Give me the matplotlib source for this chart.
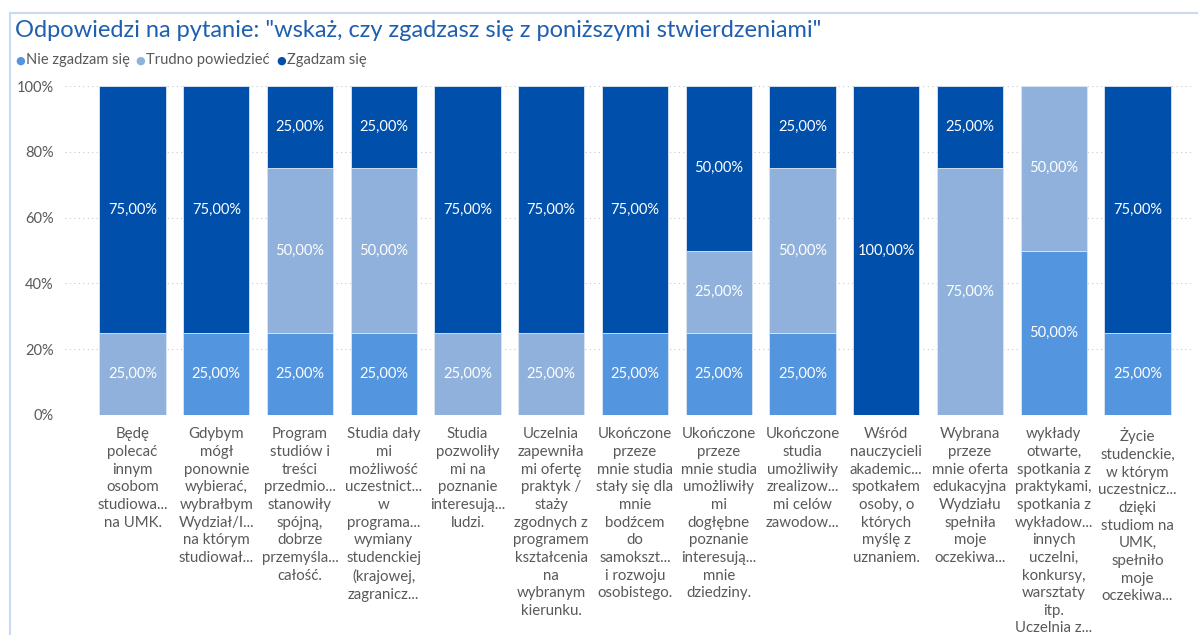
import matplotlib
matplotlib.use("Agg")
import matplotlib.pyplot as plt
from matplotlib.lines import Line2D
import numpy as np

plt.rcParams["font.family"] = ["Lato", "DejaVu Sans"]

categories = [
    "Będę\npolecać\ninnym\nosobom\nstudiowa...\nna UMK.",
    "Gdybym\nmógł\nponownie\nwybierać,\nwybrałbym\nWydział/I...\nna którym\nstudiował...",
    "Program\nstudiów i\ntreści\nprzedmio...\nstanowiły\nspójną,\ndobrze\nprzemyśla...\ncałość.",
    "Studia dały\nmi\nmożliwość\nuczestnict...\nw\nprograma...\nwymiany\nstudenckiej\n(krajowej,\nzagranicz...",
    "Studia\npozwoliły\nmi na\npoznanie\ninteresują...\nludzi.",
    "Uczelnia\nzapewniła\nmi ofertę\npraktyk /\nstaży\nzgodnych z\nprogramem\nkształcenia\nna\nwybranym\nkierunku.",
    "Ukończone\nprzeze\nmnie studia\nstały się dla\nmnie\nbodźcem\ndo\nsamokszt...\ni rozwoju\nosobistego.",
    "Ukończone\nprzeze\nmnie studia\numożliwiły\nmi\ndogłębne\npoznanie\ninteresują...\nmnie\ndziedziny.",
    "Ukończone\nstudia\numożliwiły\nzrealizow...\nmi celów\nzawodow...",
    "Wśród\nnauczycieli\nakademic...\nspotkałem\nosoby, o\nktórych\nmyślę z\nuznaniem.",
    "Wybrana\nprzeze\nmnie oferta\nedukacyjna\nWydziału\nspełniła\nmoje\noczekiwa...",
    "wykłady\notwarte,\nspotkania z\npraktykami,\nspotkania z\nwykładow...\ninnych\nuczelni,\nkonkursy,\nwarsztaty\nitp.\nUczelnia z...",
    "Życie\nstudenckie,\nw którym\nuczestnicz...\ndzięki\nstudiom na\nUMK,\nspełniło\nmoje\noczekiwa...",
]

series_names = ["Nie zgadzam się", "Trudno powiedzieć", "Zgadzam się"]
nie_zgadzam = [0.00, 0.25, 0.25, 0.25, 0.00, 0.00, 0.25, 0.25, 0.25, 0.00, 0.00, 0.50, 0.25]
trudno = [0.25, 0.00, 0.50, 0.50, 0.25, 0.25, 0.00, 0.25, 0.50, 0.00, 0.75, 0.50, 0.00]
zgadzam = [0.75, 0.75, 0.25, 0.25, 0.75, 0.75, 0.75, 0.50, 0.25, 1.00, 0.25, 0.00, 0.75]

colors = ["#5495DF", "#8FB1DB", "#0050AB"]
text_grey = "#595959"

fig = plt.figure(figsize=(11.98, 6.35), dpi=100)
ax = fig.add_axes([0.054, 0.3465, 0.943, 0.518])

x = np.arange(len(categories))
bottom = np.zeros(len(categories))
for name, vals, color in zip(series_names, [nie_zgadzam, trudno, zgadzam], colors):
    vals = np.array(vals)
    ax.bar(x, vals, bottom=bottom, width=0.79, color=color,
           edgecolor="#DCE6F2", linewidth=0.6, label=name, zorder=3)
    for xi, b, v in zip(x, bottom, vals):
        if v > 0:
            ax.text(xi, b + v / 2, f"{v * 100:.2f}%".replace(".", ","),
                    ha="center", va="center", color="white", fontsize=10.5, zorder=4)
    bottom += vals

ax.set_ylim(0, 1)
ax.set_xlim(-0.81, 12.68)
ax.set_yticks(np.arange(0, 1.01, 0.2))
ax.set_yticklabels([f"{int(t * 100)}%" for t in np.arange(0, 1.01, 0.2)],
                   color=text_grey, fontsize=10.5)
ax.yaxis.grid(True, linestyle=(0, (1, 3)), color="#C8C8C8", linewidth=0.8, zorder=0)
ax.tick_params(axis="both", length=0, pad=8)
ax.set_xticks(x)
ax.set_xticklabels([])
for xi, lab in zip(x, categories):
    ax.text(xi, -0.038, lab, ha="center", va="top", color=text_grey,
            fontsize=10.8, linespacing=1.33, transform=ax.get_xaxis_transform())
for s in ax.spines.values():
    s.set_visible(False)

fig.text(0.0125, 0.952, 'Odpowiedzi na pytanie: "wskaż, czy zgadzasz się z poniższymi stwierdzeniami"',
         color="#1F5FAF", fontsize=17, va="center", ha="left")

# legend row
lx = 0.0125
ly = 0.905
for name, color in zip(series_names, colors):
    fig.text(lx, ly, "●", color=color, fontsize=8, va="center", ha="left",
             family="DejaVu Sans")
    t = fig.text(lx + 0.009, ly, name, color=text_grey, fontsize=10.5, va="center", ha="left")
    fig.canvas.draw()
    bb = t.get_window_extent()
    lx = bb.x1 / fig.bbox.width + 0.005

# frame lines
fig.add_artist(Line2D([0.0085, 1.0], [0.979, 0.979], color="#C9DAF0", linewidth=1.5))
fig.add_artist(Line2D([0.0085, 0.0085], [0.0, 0.979], color="#C9DAF0", linewidth=1.5))

fig.savefig("out.png", dpi=100)
